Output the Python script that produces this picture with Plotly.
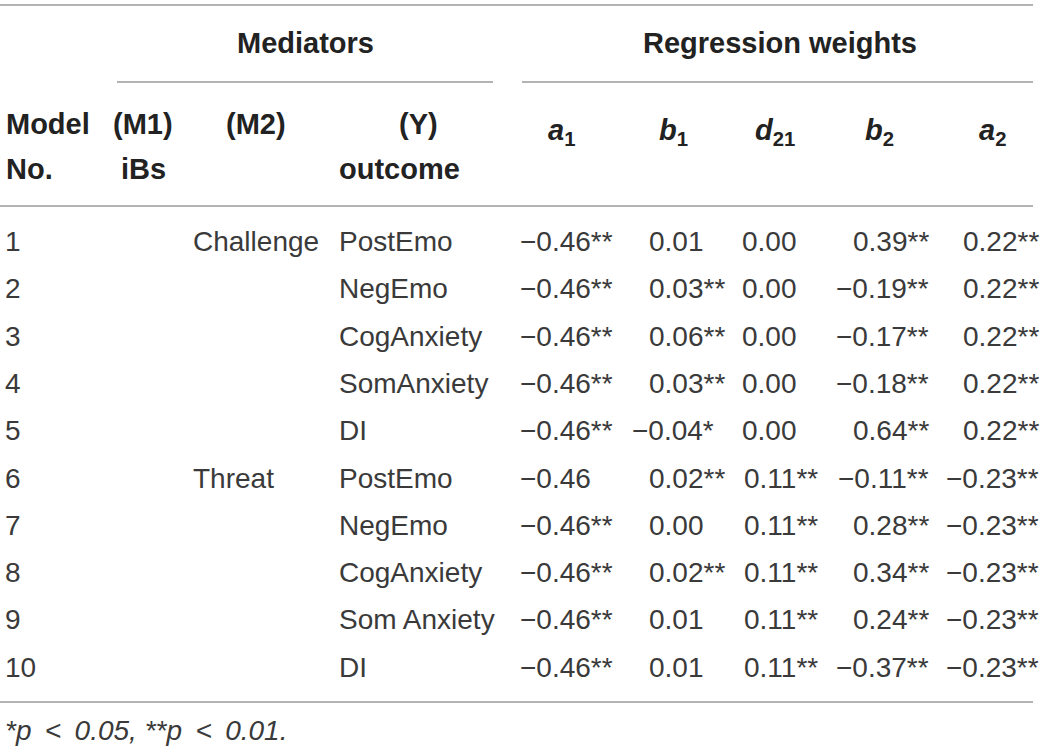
import plotly.graph_objects as go

# table content
model_no = [1, 2, 3, 4, 5, 6, 7, 8, 9, 10]
mediator_m2 = ["Challenge", "", "", "", "", "Threat", "", "", "", ""]
outcome = ["PostEmo", "NegEmo", "CogAnxiety", "SomAnxiety", "DI",
           "PostEmo", "NegEmo", "CogAnxiety", "Som Anxiety", "DI"]

a1 = [-0.46, -0.46, -0.46, -0.46, -0.46, -0.46, -0.46, -0.46, -0.46, -0.46]
a1_sig = ["**", "**", "**", "**", "**", "", "**", "**", "**", "**"]
b1 = [0.01, 0.03, 0.06, 0.03, -0.04, 0.02, 0.00, 0.02, 0.01, 0.01]
b1_sig = ["", "**", "**", "**", "*", "**", "", "**", "", ""]
d21 = [0.00, 0.00, 0.00, 0.00, 0.00, 0.11, 0.11, 0.11, 0.11, 0.11]
d21_sig = ["", "", "", "", "", "**", "**", "**", "**", "**"]
b2 = [0.39, -0.19, -0.17, -0.18, 0.64, -0.11, 0.28, 0.34, 0.24, -0.37]
b2_sig = ["**"] * 10
a2 = [0.22, 0.22, 0.22, 0.22, 0.22, -0.23, -0.23, -0.23, -0.23, -0.23]
a2_sig = ["**"] * 10

weight_headers = ["<i>a</i><sub>1</sub>", "<i>b</i><sub>1</sub>", "<i>d</i><sub>21</sub>",
                  "<i>b</i><sub>2</sub>", "<i>a</i><sub>2</sub>"]
footnote = "<i>*p \u2009&lt;\u2009 0.05, **p \u2009&lt;\u2009 0.01.</i>"

# layout (pixel grid of the 1045x751 page)
W, H = 1045, 751
FONT = "Liberation Sans, Arial, Helvetica, sans-serif"
TXT = "#3a3a3a"
HEAD = "#222222"
RULE = "#9a9a9a"
FS = 28
FS_HEAD = 29
PAD = 3  # annotation box padding
row_y0, row_dy = 241.5, 47.3
weight_cols = [(a1, a1_sig, 612), (b1, b1_sig, 724), (d21, d21_sig, 817),
               (b2, b2_sig, 928), (a2, a2_sig, 1038)]
weight_head_x = [561, 673, 775, 879, 992]

fig = go.Figure()
ann = []


def add(text, x, y, anchor="left", bold=False):
    color, size = TXT, FS
    if bold:
        text = "<b>" + text + "</b>"
        color, size = HEAD, FS_HEAD
    if anchor == "left":
        x -= PAD
    elif anchor == "right":
        x += PAD
    ann.append(dict(text=text, x=x, y=y, xref="x", yref="y", xanchor=anchor,
                    yanchor="middle", showarrow=False,
                    font=dict(family=FONT, size=size, color=color)))


def fmt(v, sig):
    s = f"{v:.2f}".replace("-", "\u2212") + sig
    pad = "*" * (2 - len(sig))
    if pad:
        s += "<span style='color:rgba(0,0,0,0)'>" + pad + "</span>"
    return s


# header block
add("Mediators", 305, 43, "center", bold=True)
add("Regression weights", 780, 43, "center", bold=True)
add("Model", 7, 124, bold=True)
add("No.", 7, 169, bold=True)
add("(M1)", 143, 124, "center", bold=True)
add("iBs", 143, 169, "center", bold=True)
add("(M2)", 256, 124, "center", bold=True)
add("(Y)", 418, 124, "center", bold=True)
add("outcome", 340, 169, bold=True)
for h, hx in zip(weight_headers, weight_head_x):
    add(h, hx, 132, "center", bold=True)

# body rows
for i in range(len(model_no)):
    y = row_y0 + i * row_dy
    add(str(model_no[i]), 6, y)
    if mediator_m2[i]:
        add(mediator_m2[i], 194, y)
    add(outcome[i], 340, y)
    for vals, sigs, xr in weight_cols:
        add(fmt(vals[i], sigs[i]), xr, y, "right")

add(footnote, 6, 730)

# horizontal rules
rules = [(0, 1033, 5), (117, 493, 82), (522, 1033, 82), (0, 1033, 206), (0, 1033, 702)]
shapes = [dict(type="line", xref="x", yref="y", x0=x0, x1=x1, y0=y, y1=y,
               line=dict(color=RULE, width=1.5)) for x0, x1, y in rules]

fig.update_layout(
    width=W, height=H,
    margin=dict(l=0, r=0, t=0, b=0),
    paper_bgcolor="white", plot_bgcolor="white",
    showlegend=False,
    annotations=ann, shapes=shapes,
    xaxis=dict(range=[0, W], visible=False, fixedrange=True),
    yaxis=dict(range=[H, 0], visible=False, fixedrange=True),
)

fig.write_html("out.html", config={"displayModeBar": False},
               post_script="document.body.style.margin='0';")
